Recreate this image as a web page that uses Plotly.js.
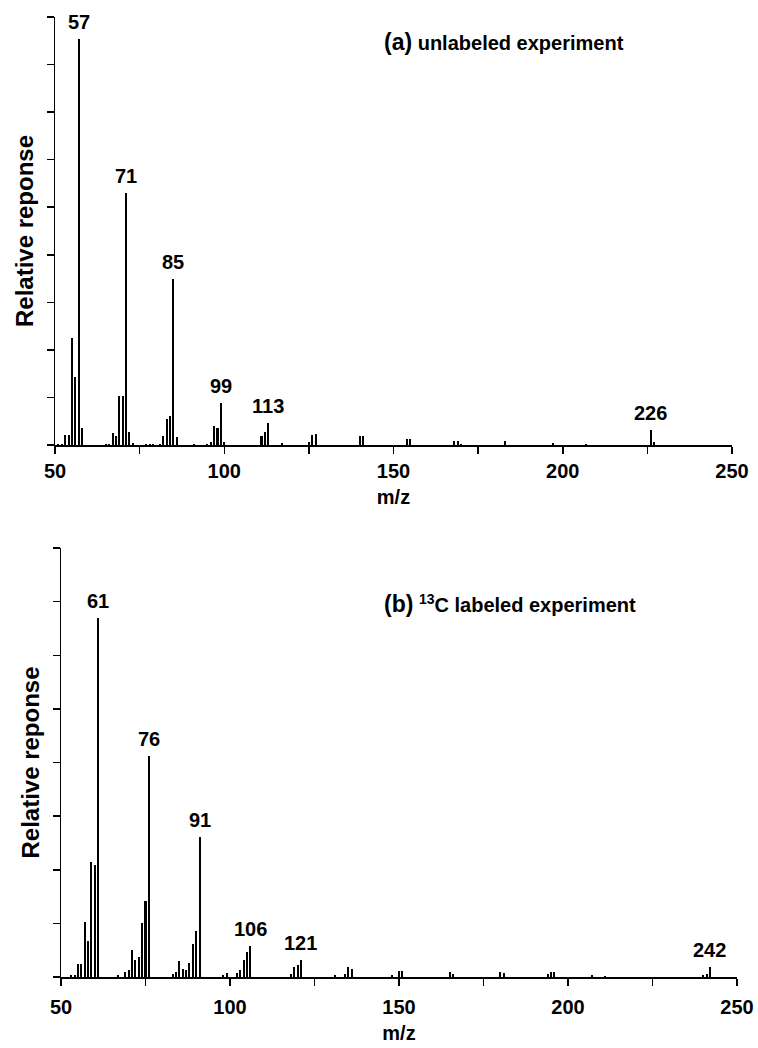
<!DOCTYPE html>
<html>
<head>
<meta charset="utf-8">
<script src="https://cdn.plot.ly/plotly-3.0.1.min.js"></script>
<style>html,body{margin:0;padding:0;background:#fff}#chart{width:758px;height:1048px}</style>
</head>
<body>
<div id="chart"></div>
<script>
// (a) unlabeled experiment: m/z and relative response
const mzA = [51, 52, 53, 54, 55, 56, 57, 58, 65, 66, 67, 68, 69, 70, 71, 72, 73, 77, 78, 79, 81, 82, 83, 84, 85, 86, 91, 95, 96, 97, 98, 99, 100, 111, 112, 113, 117, 125, 126, 127, 140, 141, 154, 155, 168, 169, 170, 183, 197, 207, 226, 227];
const intA = [0.03, 0.03, 0.21, 0.21, 2.25, 1.43, 8.53, 0.36, 0.03, 0.03, 0.25, 0.18, 1.02, 1.02, 5.29, 0.27, 0.04, 0.03, 0.03, 0.03, 0.03, 0.18, 0.55, 0.62, 3.50, 0.16, 0.02, 0.03, 0.07, 0.39, 0.36, 0.89, 0.07, 0.18, 0.28, 0.46, 0.04, 0.06, 0.21, 0.23, 0.18, 0.18, 0.13, 0.13, 0.09, 0.09, 0.03, 0.08, 0.05, 0.02, 0.32, 0.06];
const peaksA = [57, 71, 85, 99, 113, 226];

// (b) 13C labeled experiment
const mzB = [53, 54, 55, 56, 57, 58, 59, 60, 61, 67, 69, 70, 71, 72, 73, 74, 75, 76, 83, 84, 85, 86, 87, 88, 89, 90, 91, 98, 99, 102, 103, 104, 105, 106, 118, 119, 120, 121, 131, 134, 135, 136, 148, 150, 151, 165, 166, 180, 181, 194, 195, 196, 207, 211, 240, 241, 242];
const intB = [0.04, 0.04, 0.25, 0.25, 1.03, 0.68, 2.15, 2.09, 6.70, 0.03, 0.09, 0.13, 0.51, 0.32, 0.38, 1.01, 1.42, 4.12, 0.06, 0.10, 0.29, 0.15, 0.13, 0.26, 0.62, 0.85, 2.61, 0.03, 0.07, 0.08, 0.13, 0.32, 0.46, 0.57, 0.05, 0.19, 0.22, 0.32, 0.03, 0.05, 0.19, 0.15, 0.03, 0.11, 0.11, 0.09, 0.05, 0.09, 0.07, 0.06, 0.09, 0.09, 0.03, 0.02, 0.03, 0.06, 0.19];
const peaksB = [61, 76, 91, 106, 121, 242];

const titleA = '<b><span style="font-size:23px">(a)</span> unlabeled experiment</b>';
const titleB = '<b><span style="font-size:23px">(b)</span> <sup>13</sup>C labeled experiment</b>';

const FONT = 'Liberation Sans, Arial, Helvetica, sans-serif';

const traces = [
  {type: 'bar', x: mzA, y: intA, xaxis: 'x', yaxis: 'y', width: 0.6,
   marker: {color: '#000', line: {width: 0}}, showlegend: false, hoverinfo: 'x+y'},
  {type: 'bar', x: mzB, y: intB, xaxis: 'x2', yaxis: 'y2', width: 0.6,
   marker: {color: '#000', line: {width: 0}}, showlegend: false, hoverinfo: 'x+y'}
];

function peakAnn(peaks, mz, inten, xa, ya) {
  return peaks.map(p => ({
    x: p, y: inten[mz.indexOf(p)], xref: xa, yref: ya,
    text: '<b>' + p + '</b>', showarrow: false, yanchor: 'bottom', yshift: 4,
    font: {family: FONT, size: 20, color: '#000'}
  }));
}

const xCommon = {
  range: [50, 250], tick0: 50, dtick: 50,
  showline: true, linecolor: '#000', linewidth: 1.5, ticks: 'outside', ticklen: 7,
  tickwidth: 1.5, tickcolor: '#000', showgrid: false, zeroline: false,
  minor: {dtick: 25, tick0: 50, ticks: 'outside', ticklen: 7, tickwidth: 1.5, tickcolor: '#000', showgrid: false},
  tickfont: {family: FONT, size: 20, color: '#000', weight: 'bold'},
  automargin: false
};
const yCommon = {
  showline: true, linecolor: '#000', linewidth: 1.5, ticks: 'outside', ticklen: 7,
  tickwidth: 1.5, tickcolor: '#000', showgrid: false, zeroline: false, dtick: 1,
  showticklabels: false, automargin: false
};

const layout = {
  width: 758, height: 1048,
  margin: {l: 0, r: 0, t: 0, b: 0},
  paper_bgcolor: '#fff', plot_bgcolor: '#fff',
  bargap: 0,
  font: {family: FONT, color: '#000'},
  xaxis: Object.assign({}, xCommon, {
    domain: [55 / 758, 732 / 758], anchor: 'y',
    title: {text: '<b>m/z</b>', font: {family: FONT, size: 20, color: '#000'}, standoff: 9}
  }),
  yaxis: Object.assign({}, yCommon, {
    domain: [(1048 - 445) / 1048, (1048 - 17) / 1048], range: [0, 9], anchor: 'x',
    title: {text: '<b>Relative reponse</b>', font: {family: FONT, size: 24, color: '#000'}, standoff: 6}
  }),
  xaxis2: Object.assign({}, xCommon, {
    domain: [61 / 758, 737 / 758], anchor: 'y2', ticklabelstandoff: 4,
    title: {text: '<b>m/z</b>', font: {family: FONT, size: 20, color: '#000'}, standoff: 9}
  }),
  yaxis2: Object.assign({}, yCommon, {
    domain: [(1048 - 977) / 1048, (1048 - 548) / 1048], range: [0, 8], anchor: 'x2',
    title: {text: '<b>Relative reponse</b>', font: {family: FONT, size: 24, color: '#000'}, standoff: 6}
  }),
  annotations: [
    ...peakAnn(peaksA, mzA, intA, 'x', 'y'),
    ...peakAnn(peaksB, mzB, intB, 'x2', 'y2'),
    {x: 382 / 758, y: (1048 - 42) / 1048, xref: 'paper', yref: 'paper', xanchor: 'left', yanchor: 'middle',
     text: titleA, showarrow: false, font: {family: FONT, size: 20, color: '#000'}},
    {x: 382 / 758, y: (1048 - 604) / 1048, xref: 'paper', yref: 'paper', xanchor: 'left', yanchor: 'middle',
     text: titleB, showarrow: false, font: {family: FONT, size: 20, color: '#000'}}
  ]
};

Plotly.newPlot('chart', traces, layout, {displayModeBar: false, staticPlot: true});
</script>
</body>
</html>
